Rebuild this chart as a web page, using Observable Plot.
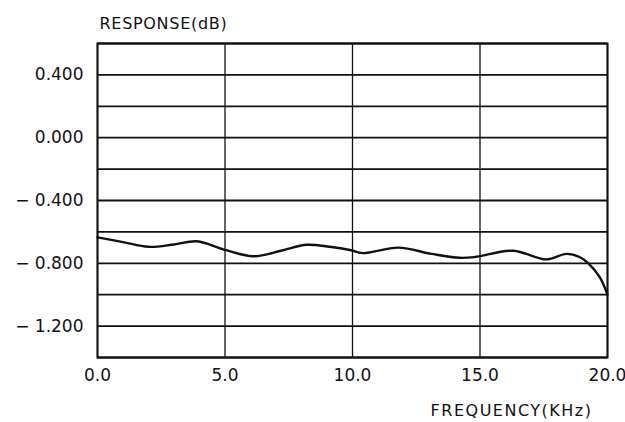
<!DOCTYPE html>
<html>
<head>
<meta charset="utf-8">
<script src="https://cdn.jsdelivr.net/npm/d3@7"></script>
<script src="https://cdn.jsdelivr.net/npm/@observablehq/plot@0.6"></script>
<style>
  html, body { margin: 0; padding: 0; background: #fff; }
</style>
</head>
<body>
<div id="chart"></div>
<script>
// Frequency (kHz) and response (dB)
const freq = [0.0, 1.0, 2.0, 3.0, 3.9, 5.0, 6.1, 7.2, 8.2, 9.1, 9.9, 10.4, 11.8, 13.1, 14.2, 14.8, 16.3, 17.6, 18.4, 18.9, 19.25, 19.7, 20.0];
const response = [-0.635, -0.665, -0.695, -0.68, -0.66, -0.715, -0.755, -0.72, -0.682, -0.695, -0.715, -0.735, -0.70, -0.74, -0.765, -0.76, -0.72, -0.775, -0.74, -0.76, -0.80, -0.89, -1.0];

const xTicks = [0, 5, 10, 15, 20];
const yTicks = [0.4, 0.0, -0.4, -0.8, -1.2];
const yGrid = [0.6, 0.4, 0.2, 0.0, -0.2, -0.4, -0.6, -0.8, -1.0, -1.2, -1.4];
const yTitle = "RESPONSE(dB)";
const xTitle = "FREQUENCY(KHz)";

const data = freq.map((f, i) => ({f, r: response[i]}));

const fmtY = d => (d < 0 ? "\u2212 " + Math.abs(d).toFixed(3) : d.toFixed(3));

const chart = Plot.plot({
  width: 625,
  height: 422,
  marginLeft: 97,
  marginRight: 18,
  marginTop: 43,
  marginBottom: 65,
  style: {fontFamily: "DejaVu Sans", fontSize: "17px", color: "#111", background: "#fff"},
  x: {domain: [0, 20]},
  y: {domain: [-1.4, 0.6]},
  marks: [
    Plot.ruleY(yGrid, {stroke: "#111", strokeWidth: 1.8}),
    Plot.ruleX(xTicks, {stroke: "#111", strokeWidth: 1.3}),
    Plot.frame({stroke: "#111", strokeWidth: 2}),
    Plot.line(data, {x: "f", y: "r", curve: "catmull-rom", stroke: "#111", strokeWidth: 2.4}),
    Plot.axisX({ticks: xTicks, tickSize: 0, tickPadding: 11, tickFormat: d => d.toFixed(1), label: null}),
    Plot.axisY({ticks: yTicks, tickSize: 0, tickPadding: 14, tickFormat: fmtY, label: null}),
    Plot.text([yTitle], {frameAnchor: "top-left", text: d => d, textAnchor: "start", lineAnchor: "bottom", dx: 2, dy: -15, fontSize: 16, fill: "#111", style: "letter-spacing:0.7px"}),
    Plot.text([xTitle], {frameAnchor: "bottom-right", text: d => d, textAnchor: "end", lineAnchor: "middle", dx: -15, dy: 53, fontSize: 16, fill: "#111"})
  ]
});
chart.querySelectorAll("text").forEach(t => {
  if (t.textContent === xTitle) t.setAttribute("letter-spacing", "1.5");
  if (t.textContent === yTitle) t.setAttribute("letter-spacing", "0.7");
});
document.getElementById("chart").appendChild(chart);
</script>
</body>
</html>
